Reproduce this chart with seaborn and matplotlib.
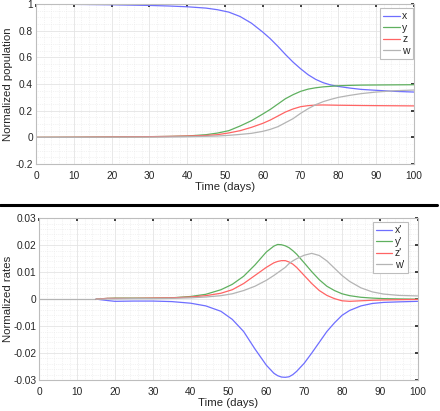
import pandas as pd
import seaborn as sns
import matplotlib.pyplot as plt
from matplotlib.ticker import MultipleLocator
from matplotlib.lines import Line2D

#values (top panel: populations)
days_pop = [0, 10, 20, 30, 35, 40, 45, 48, 51, 54, 57, 60, 62, 64, 66, 68, 70, 72, 74, 76, 78, 80, 83, 86, 90, 95, 100]
x_pop = [1.0, 0.998, 0.995, 0.99, 0.986, 0.98, 0.97, 0.958, 0.94, 0.907, 0.857, 0.79, 0.74, 0.683, 0.622, 0.565,
         0.515, 0.47, 0.435, 0.41, 0.393, 0.382, 0.37, 0.36, 0.353, 0.345, 0.34]
y_pop = [0.0, 0.001, 0.003, 0.005, 0.007, 0.01, 0.02, 0.032, 0.05, 0.085, 0.125, 0.175, 0.21, 0.25, 0.29, 0.32,
         0.345, 0.362, 0.372, 0.379, 0.383, 0.387, 0.39, 0.392, 0.393, 0.394, 0.395]
z_pop = [0.0, 0.001, 0.003, 0.005, 0.007, 0.01, 0.014, 0.02, 0.033, 0.05, 0.075, 0.105, 0.13, 0.16, 0.19, 0.213,
         0.23, 0.238, 0.242, 0.243, 0.242, 0.241, 0.24, 0.239, 0.238, 0.237, 0.236]
w_pop = [0.0, 0.0, 0.001, 0.002, 0.003, 0.005, 0.008, 0.01, 0.015, 0.022, 0.03, 0.045, 0.06, 0.08, 0.11, 0.14,
         0.18, 0.215, 0.245, 0.268, 0.285, 0.3, 0.315, 0.328, 0.34, 0.35, 0.355]

#bottom panel: rates
days_rate = [15, 18, 20, 25, 30, 35, 40, 44, 48, 51, 54, 57, 60, 62, 63, 64, 65, 66, 67, 68, 70, 72, 74, 76,
             78, 80, 82, 85, 88, 91, 95, 100]
x_rate = [0.0, -0.0005, -0.0008, -0.0007, -0.0007, -0.0009, -0.0015, -0.0025, -0.0045, -0.0075, -0.012, -0.0185,
          -0.0245, -0.0275, -0.0284, -0.0289, -0.029, -0.0288, -0.028, -0.0268, -0.0238, -0.02, -0.016, -0.012,
          -0.0088, -0.006, -0.0042, -0.0025, -0.0016, -0.0012, -0.001, -0.0008]
y_rate = [0.0, 0.0003, 0.0004, 0.0004, 0.0004, 0.0005, 0.001, 0.0018, 0.0035, 0.0055, 0.0085, 0.0127, 0.0175,
          0.0197, 0.0203, 0.0202, 0.0198, 0.0191, 0.018, 0.0167, 0.0135, 0.0102, 0.0072, 0.0048, 0.0032, 0.002,
          0.0013, 0.0007, 0.0004, 0.0002, 0.0001, 0.0]
z_rate = [0.0, 0.0003, 0.0003, 0.0003, 0.0004, 0.0005, 0.0008, 0.0013, 0.0022, 0.0035, 0.0058, 0.0088, 0.0118,
          0.0135, 0.014, 0.0143, 0.0143, 0.0138, 0.013, 0.0118, 0.0088, 0.0058, 0.0032, 0.0014, 0.0002, -0.0006,
          -0.0008, -0.0006, -0.0004, -0.0003, -0.0002, -0.0001]
w_rate = [0.0, 0.0001, 0.0001, 0.0002, 0.0002, 0.0003, 0.0005, 0.0008, 0.0013, 0.002, 0.0032, 0.0048, 0.007,
          0.0088, 0.0098, 0.0108, 0.0118, 0.0132, 0.0142, 0.015, 0.0163, 0.017, 0.0162, 0.0142, 0.0115, 0.0088,
          0.0066, 0.0042, 0.0027, 0.0019, 0.0014, 0.0012]
w_rate_lead_days = [0, 15]
w_rate_lead = [0.0, 0.0]

labels_pop = ['x', 'y', 'z', 'w']
labels_rate = ["x'", "y'", "z'", "w'"]
colors = ['#6e6eff', '#5fb05f', '#ff6464', '#b4b4b4']

sns.set_theme(style='white')
plt.rcParams['font.family'] = ['Liberation Sans', 'DejaVu Sans']

fig = plt.figure(figsize=(4.4, 4.11), dpi=100)
ax1 = fig.add_axes([0.0818, 0.601, 0.859, 0.389])
ax2 = fig.add_axes([0.0893, 0.0754, 0.860, 0.3934])

pop = pd.DataFrame({'day': days_pop, 'x': x_pop, 'y': y_pop, 'z': z_pop, 'w': w_pop})
pop = pop.melt(id_vars='day', var_name='series', value_name='value')
sns.lineplot(data=pop, x='day', y='value', hue='series', hue_order=labels_pop,
             palette=colors, linewidth=0.9, ax=ax1, legend=False)

rate = pd.DataFrame({'day': days_rate, "x'": x_rate, "y'": y_rate, "z'": z_rate, "w'": w_rate})
rate = rate.melt(id_vars='day', var_name='series', value_name='value')
sns.lineplot(x=w_rate_lead_days, y=w_rate_lead, color=colors[3], linewidth=0.9, ax=ax2)
sns.lineplot(data=rate, x='day', y='value', hue='series', hue_order=labels_rate,
             palette=colors, linewidth=0.9, ax=ax2, legend=False)

def style(ax, ylim, ymajor, yminor, ylabel, labels, fmt, label_x, leg_anchor):
    ax.set_xlim(0, 100)
    ax.set_ylim(*ylim)
    ax.xaxis.set_major_locator(MultipleLocator(10))
    ax.xaxis.set_minor_locator(MultipleLocator(2))
    ax.yaxis.set_major_locator(MultipleLocator(ymajor))
    ax.yaxis.set_minor_locator(MultipleLocator(yminor))
    ax.yaxis.set_major_formatter(fmt)
    ax.grid(which='major', color='#e4e4e4', linewidth=0.6)
    ax.grid(which='minor', color='#e8e8e8', linewidth=0.5, linestyle=':')
    ax.tick_params(which='major', direction='in', labelsize=7.3, colors='#262626',
                   length=2.5, top=True, right=True)
    ax.tick_params(axis='x', which='major', pad=5)
    ax.tick_params(axis='y', which='major', pad=2.2)
    ax.tick_params(which='minor', length=0)
    for s in ax.spines.values():
        s.set_color('#bdbdbd')
        s.set_linewidth(0.8)
    ax.set_xlabel('Time (days)', fontsize=8.2, color='#262626', labelpad=1)
    ax.set_ylabel(ylabel, fontsize=8.2, color='#262626')
    ax.yaxis.set_label_coords(label_x, 0.5)
    handles = [Line2D([], [], color=c, linewidth=0.9) for c in colors]
    leg = ax.legend(handles, labels, loc='upper right', bbox_to_anchor=leg_anchor,
                    borderaxespad=0, fontsize=7.5, handlelength=1.6, handletextpad=0.25,
                    labelspacing=0.15, borderpad=0.3, fancybox=False, framealpha=1)
    leg.get_frame().set_edgecolor('#bdbdbd')
    leg.get_frame().set_linewidth(0.8)

def fmt_pop(v, pos):
    return f'{v:.1f}'.rstrip('0').rstrip('.') if abs(v) > 1e-9 else '0'

def fmt_rate(v, pos):
    return f'{v:.2f}'.rstrip('0').rstrip('.') if abs(v) > 1e-9 else '0'

style(ax1, (-0.2, 1.0), 0.2, 0.05, 'Normalized population', labels_pop, fmt_pop,
      -0.061, (0.997, 0.975))
style(ax2, (-0.03, 0.03), 0.01, 0.002, 'Normalized rates', labels_rate, fmt_rate,
      -0.0695, (0.974, 0.977))

#separator between the panels
fig.add_artist(Line2D([0.0, 0.994], [0.501, 0.501], color='black', linewidth=2.2,
                      transform=fig.transFigure))

fig.savefig('out.png', dpi=100)
